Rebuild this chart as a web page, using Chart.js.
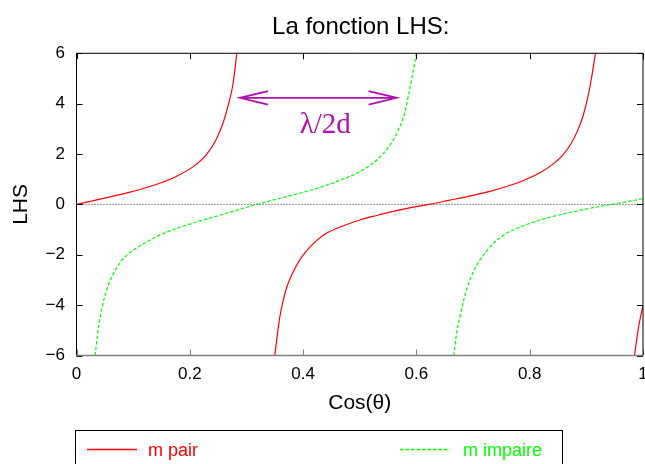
<!DOCTYPE html>
<html>
<head>
<meta charset="utf-8">
<script src="https://cdn.jsdelivr.net/npm/chart.js@4/dist/chart.umd.min.js"></script>
<style>
html, body { margin: 0; padding: 0; background: #fff; }
canvas { display: block; }
</style>
</head>
<body>
<canvas id="lhs" width="645" height="464"></canvas>
<script>
// m pair (red), branches separated by null
var pairX = [0, 0.030, 0.059, 0.089, 0.118, 0.147, 0.177, 0.206, 0.230, 0.247, 0.259, 0.268, 0.276, 0.283, null,
             0.350, 0.355, 0.359, 0.365, 0.371, 0.382, 0.394, 0.406, 0.418, 0.441, 0.470, 0.500, 0.530, 0.559, 0.590, 0.622,
             0.655, 0.700, 0.730, 0.759, 0.790, 0.818, 0.840, 0.858, 0.872, 0.884, 0.894, 0.902, 0.909, 0.916, null,
             0.985, 0.992, 1.0];
var pairY = [0, 0.15, 0.30, 0.46, 0.63, 0.84, 1.12, 1.50, 2.00, 2.60, 3.25, 3.95, 4.75, 6, null,
             -6, -5.1, -4.46, -3.8, -3.3, -2.7, -2.21, -1.85, -1.56, -1.15, -0.86, -0.62, -0.44, -0.28, -0.13, 0,
             0.15, 0.36, 0.52, 0.71, 0.96, 1.26, 1.58, 1.95, 2.38, 2.9, 3.5, 4.2, 5.0, 6, null,
             -6, -4.9, -4.0];

// m impaire (green)
var impaireX = [0.033, 0.038, 0.046, 0.052, 0.059, 0.070, 0.085, 0.105, 0.124, 0.147, 0.171, 0.206, 0.247, 0.283, 0.318,
                0.350, 0.383, 0.413, 0.441, 0.470, 0.500, 0.520, 0.540, 0.556, 0.569, 0.579, 0.587, 0.594, 0.600, null,
                0.666, 0.671, 0.677, 0.683, 0.689, 0.699, 0.712, 0.724, 0.735, 0.759, 0.788, 0.818, 0.848, 0.877, 0.912, 0.945, 0.975, 1.0];
var impaireY = [-6, -5.0, -4.0, -3.5, -3.05, -2.55, -2.1, -1.75, -1.49, -1.22, -1.0, -0.74, -0.47, -0.23, 0,
                0.19, 0.38, 0.56, 0.76, 1.0, 1.3, 1.58, 1.98, 2.45, 3.0, 3.6, 4.45, 5.25, 6, null,
                -6, -5.1, -4.45, -3.85, -3.35, -2.75, -2.21, -1.85, -1.56, -1.15, -0.86, -0.62, -0.44, -0.29, -0.13, 0, 0.12, 0.23];

var zeroX = [0, 1];
var zeroY = [0, 0];

var xTicks = [0, 0.2, 0.4, 0.6, 0.8, 1];
var yTicks = [-6, -4, -2, 0, 2, 4, 6];

// lambda/2d arrow, in data units
var arrowX = [0.2885, 0.565];
var arrowY = 4.23;
var arrowLabel = "λ/2d";
var arrowLabelAt = [0.439, 2.85];

var titleText = "La fonction LHS:";

var SANS = "'Liberation Sans', Arial, Helvetica, sans-serif";
var MAGENTA = "#b010b0";

function pts(xs, ys) {
  return xs.map(function (x, i) { return { x: x, y: ys[i] }; });
}

function fmt(v) {
  return v < 0 ? "\u2212" + Math.abs(v) : String(v);
}

var framePlugin = {
  id: "frame",
  afterDraw: function (chart) {
    var c = chart.ctx, a = chart.chartArea;
    var xs = chart.scales.x, ys = chart.scales.y;
    c.save();

    // title, centred over the plot
    c.fillStyle = "#000";
    c.font = "24px " + SANS;
    c.textAlign = "center";
    c.textBaseline = "alphabetic";
    c.fillText(titleText, (a.left + a.right) / 2 + 1, 34);

    // ticks, inward on all sides
    c.lineWidth = 1;
    xTicks.forEach(function (v) {
      var px = Math.round(xs.getPixelForValue(v)) + 0.5;
      c.strokeStyle = "#000";
      c.beginPath(); c.moveTo(px, a.top); c.lineTo(px, a.top + 6); c.stroke();
      c.strokeStyle = "#808080";
      c.beginPath(); c.moveTo(px, a.bottom); c.lineTo(px, a.bottom - 6); c.stroke();
    });
    yTicks.forEach(function (v) {
      var py = Math.round(ys.getPixelForValue(v)) + 0.5;
      c.strokeStyle = "#000";
      c.beginPath(); c.moveTo(a.left, py); c.lineTo(a.left + 6, py); c.stroke();
      c.beginPath(); c.moveTo(a.right, py); c.lineTo(a.right - 6, py); c.stroke();
    });
    // border
    c.strokeStyle = "#000";
    c.beginPath();
    c.moveTo(a.left, a.bottom); c.lineTo(a.left, a.top); c.lineTo(a.right, a.top); c.lineTo(a.right, a.bottom);
    c.stroke();
    c.strokeStyle = "#808080";
    c.lineWidth = 1.6;
    c.beginPath(); c.moveTo(a.left, a.bottom); c.lineTo(a.right, a.bottom); c.stroke();

    // arrow
    var x1 = xs.getPixelForValue(arrowX[0]), x2 = xs.getPixelForValue(arrowX[1]);
    var ay = ys.getPixelForValue(arrowY);
    c.strokeStyle = MAGENTA;
    c.lineWidth = 1.8;
    c.beginPath();
    c.moveTo(x1, ay); c.lineTo(x2, ay);
    c.moveTo(x1 + 28, ay - 6.7); c.lineTo(x1, ay); c.lineTo(x1 + 28, ay + 6.7);
    c.moveTo(x2 - 28, ay - 6.7); c.lineTo(x2, ay); c.lineTo(x2 - 28, ay + 6.7);
    c.stroke();
    c.fillStyle = MAGENTA;
    c.font = "29px 'Liberation Serif', 'Times New Roman', serif";
    c.fillText(arrowLabel, xs.getPixelForValue(arrowLabelAt[0]), ys.getPixelForValue(arrowLabelAt[1]));

    // legend box
    c.strokeStyle = "#000";
    c.lineWidth = 1;
    c.strokeRect(75.5, 430.5, 487, 60);
    var items = [
      { ds: chart.data.datasets[0], x: 87, tx: 148 },
      { ds: chart.data.datasets[1], x: 400, tx: 463 }
    ];
    c.font = "18px " + SANS;
    c.textAlign = "left";
    items.forEach(function (it) {
      c.strokeStyle = it.ds.borderColor;
      c.lineWidth = 1.4;
      c.setLineDash(it.ds.borderDash || []);
      c.beginPath(); c.moveTo(it.x, 449.5); c.lineTo(it.x + 50, 449.5); c.stroke();
      c.setLineDash([]);
      c.fillStyle = it.ds.borderColor;
      c.fillText(it.ds.label, it.tx, 456);
    });
    c.restore();
  }
};

Chart.defaults.font.family = SANS;
Chart.defaults.color = "#000";

new Chart(document.getElementById("lhs"), {
  type: "scatter",
  data: {
    datasets: [
      {
        label: "m pair",
        data: pts(pairX, pairY),
        showLine: true,
        borderColor: "#ff0000",
        borderWidth: 1.2,
        pointRadius: 0,
        cubicInterpolationMode: "monotone",
        spanGaps: false
      },
      {
        label: "m impaire",
        data: pts(impaireX, impaireY),
        showLine: true,
        borderColor: "#00ff00",
        borderWidth: 1.2,
        borderDash: [3.5, 2],
        pointRadius: 0,
        cubicInterpolationMode: "monotone",
        spanGaps: false
      },
      {
        label: "",
        data: pts(zeroX, zeroY),
        showLine: true,
        borderColor: "#222",
        borderWidth: 1,
        borderDash: [1, 2],
        pointRadius: 0
      }
    ]
  },
  options: {
    responsive: false,
    animation: false,
    events: [],
    layout: { padding: { left: 0, right: 2, top: 53.3, bottom: 0 } },
    plugins: {
      legend: { display: false },
      tooltip: { enabled: false },
      title: { display: false }
    },
    scales: {
      x: {
        type: "linear",
        min: 0, max: 1,
        afterBuildTicks: function (s) { s.ticks = xTicks.map(function (v) { return { value: v }; }); },
        afterFit: function (s) { s.paddingLeft = 0; s.paddingRight = 0; s.height = 108.5; },
        ticks: { padding: 9, font: { size: 17 }, color: "#000", callback: fmt, maxRotation: 0 },
        grid: { display: false, drawTicks: false },
        border: { display: false },
        title: { display: true, text: "Cos(θ)", font: { size: 21 }, color: "#000", padding: { top: 0, bottom: 48 } }
      },
      y: {
        type: "linear",
        min: -6, max: 6,
        afterBuildTicks: function (s) { s.ticks = yTicks.map(function (v) { return { value: v }; }); },
        afterFit: function (s) { s.width = 76.5; },
        ticks: { padding: 11.5, font: { size: 17 }, color: "#000", callback: fmt },
        grid: { display: false, drawTicks: false },
        border: { display: false },
        title: { display: true, text: "LHS", font: { size: 21 }, color: "#000", padding: { top: 9, bottom: 0 } }
      }
    }
  },
  plugins: [framePlugin]
});
</script>
</body>
</html>
